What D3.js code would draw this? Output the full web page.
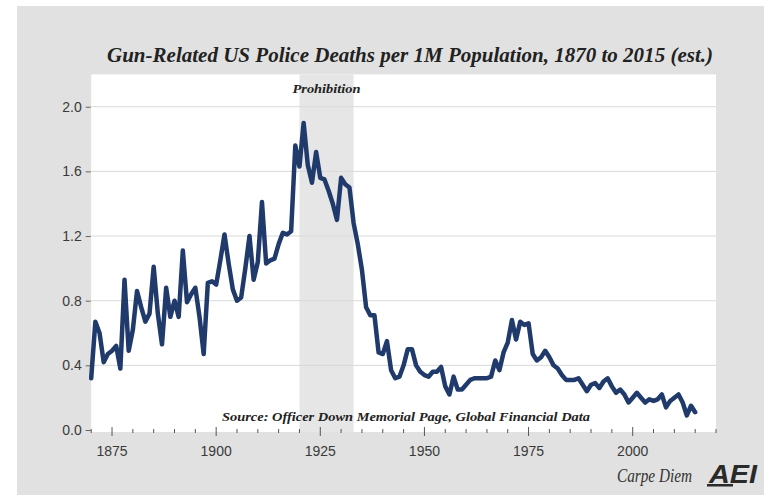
<!DOCTYPE html>
<html>
<head>
<meta charset="utf-8">
<script src="https://cdn.jsdelivr.net/npm/d3@7"></script>
<style>
  html, body { margin: 0; padding: 0; background: #ffffff; }
  svg { display: block; }
</style>
</head>
<body>
<svg id="chart" width="764" height="495"></svg>
<script>
// ---------- data ----------
const title = "Gun-Related US Police Deaths per 1M Population, 1870 to 2015 (est.)";
const sourceText = "Source: Officer Down Memorial Page, Global Financial Data";
const shadeLabel = "Prohibition";
const shadeYears = [1920, 1933];
const startYear = 1870;
const deathsPer1M = [
  0.32,0.67,0.60,0.42,0.47,0.49,0.52,0.38,0.93,0.49,   // 1870s
  0.62,0.86,0.76,0.67,0.72,1.01,0.72,0.53,0.88,0.70,   // 1880s
  0.80,0.70,1.11,0.79,0.84,0.88,0.70,0.47,0.91,0.92,   // 1890s
  0.90,1.05,1.21,1.03,0.87,0.80,0.82,1.00,1.20,0.93,   // 1900s
  1.04,1.41,1.03,1.05,1.06,1.15,1.22,1.21,1.23,1.76,   // 1910s
  1.63,1.90,1.64,1.53,1.72,1.56,1.55,1.48,1.40,1.30,   // 1920s
  1.56,1.52,1.50,1.28,1.15,0.99,0.76,0.71,0.71,0.48,   // 1930s
  0.47,0.55,0.37,0.32,0.33,0.40,0.50,0.50,0.40,0.36,   // 1940s
  0.34,0.33,0.36,0.36,0.39,0.27,0.22,0.33,0.25,0.25,   // 1950s
  0.28,0.31,0.32,0.32,0.32,0.32,0.33,0.43,0.37,0.48,   // 1960s
  0.54,0.68,0.56,0.67,0.65,0.66,0.47,0.43,0.45,0.49,   // 1970s
  0.45,0.40,0.38,0.34,0.31,0.31,0.31,0.32,0.28,0.24,   // 1980s
  0.28,0.29,0.26,0.30,0.32,0.27,0.23,0.25,0.22,0.17,   // 1990s
  0.20,0.23,0.20,0.17,0.19,0.18,0.19,0.22,0.14,0.18,   // 2000s
  0.20,0.22,0.17,0.09,0.15,0.11                        // 2010-2015
];
const yTickValues = [0.0, 0.4, 0.8, 1.2, 1.6, 2.0];
const xLabelYears = [1875, 1900, 1925, 1950, 1975, 2000];
const xDomain = [1870, 2020];
const yDomain = [0, 2.2];

// ---------- layout ----------
const svg = d3.select("#chart");
const plot = { left: 91.2, right: 716, top: 74.4, bottom: 432, zero: 430 };

const x = d3.scaleLinear().domain(xDomain).range([plot.left, plot.right]);
const y = d3.scaleLinear().domain(yDomain).range([plot.zero, plot.top]);

const data = deathsPer1M.map((v, i) => ({ year: startYear + i, value: v }));

// outer gray panel
svg.append("rect").attr("x", 17).attr("y", 6).attr("width", 764 - 17).attr("height", 495 - 6)
  .attr("fill", "#e1e1e1");

// plot background
svg.append("rect").attr("x", plot.left).attr("y", plot.top)
  .attr("width", plot.right - plot.left).attr("height", plot.bottom - plot.top)
  .attr("fill", "#ffffff");

// prohibition shading
svg.append("rect").attr("x", x(shadeYears[0])).attr("y", plot.top)
  .attr("width", x(shadeYears[1]) - x(shadeYears[0])).attr("height", plot.bottom - plot.top)
  .attr("fill", "#e6e6e6");

// gridlines
svg.append("g").selectAll("line").data(yTickValues.filter(d => d > 0)).join("line")
  .attr("x1", plot.left).attr("x2", plot.right)
  .attr("y1", d => y(d)).attr("y2", d => y(d))
  .attr("stroke", "#d9d9d9").attr("stroke-width", 1);

// y axis
const yAxis = d3.axisLeft(y).tickValues(yTickValues).tickFormat(d3.format(".1f"))
  .tickSize(5).tickPadding(4);
const gy = svg.append("g").attr("transform", `translate(${plot.left - 0.5},0)`).call(yAxis);
gy.select(".domain").remove();
gy.selectAll(".tick line").attr("stroke", "#666");
gy.selectAll(".tick text").attr("font-family", "'Liberation Sans', Arial, sans-serif")
  .attr("font-size", 14).attr("fill", "#3a3a3a");

// x axis: minor ticks every 5 years, labels every 25
const minorYears = d3.range(xDomain[0], xDomain[1] + 1, 5);
const gx = svg.append("g");
gx.selectAll("line").data(minorYears).join("line")
  .attr("x1", d => x(d)).attr("x2", d => x(d))
  .attr("y1", d => xLabelYears.includes(d) ? 427 : 429)
  .attr("y2", d => xLabelYears.includes(d) ? 436 : 433)
  .attr("stroke", "#555").attr("stroke-width", 1);
gx.selectAll("text").data(xLabelYears).join("text")
  .attr("x", d => x(d)).attr("y", 456)
  .attr("text-anchor", "middle")
  .attr("font-family", "'Liberation Sans', Arial, sans-serif")
  .attr("font-size", 14).attr("fill", "#3a3a3a")
  .text(d => d);

// line
const line = d3.line().x(d => x(d.year)).y(d => y(d.value));
svg.append("path").datum(data)
  .attr("d", line)
  .attr("fill", "none")
  .attr("stroke", "#1f3a6b")
  .attr("stroke-width", 4.5)
  .attr("stroke-linejoin", "round")
  .attr("stroke-linecap", "round");

// texts
const serif = "'Liberation Serif', 'DejaVu Serif', Georgia, serif";
svg.append("text").attr("x", 107).attr("y", 62)
  .attr("font-family", serif).attr("font-style", "italic").attr("font-weight", "bold")
  .attr("font-size", 20).attr("fill", "#222")
  .attr("textLength", 606).attr("lengthAdjust", "spacingAndGlyphs")
  .text(title);

svg.append("text").attr("x", (x(shadeYears[0]) + x(shadeYears[1])) / 2).attr("y", 93)
  .attr("text-anchor", "middle")
  .attr("font-family", serif).attr("font-style", "italic").attr("font-weight", "bold")
  .attr("font-size", 13).attr("fill", "#222")
  .attr("textLength", 68).attr("lengthAdjust", "spacingAndGlyphs")
  .text(shadeLabel);

svg.append("text").attr("x", 222).attr("y", 421)
  .attr("font-family", serif).attr("font-style", "italic").attr("font-weight", "bold")
  .attr("font-size", 13).attr("fill", "#222")
  .attr("textLength", 368).attr("lengthAdjust", "spacingAndGlyphs")
  .text(sourceText);

// branding
svg.append("text").attr("x", 617).attr("y", 482)
  .attr("font-family", serif).attr("font-style", "italic")
  .attr("font-size", 18).attr("fill", "#333")
  .attr("textLength", 75).attr("lengthAdjust", "spacingAndGlyphs")
  .text("Carpe Diem");
svg.append("text").attr("x", 709).attr("y", 483)
  .attr("font-family", "'Liberation Sans', Arial, sans-serif").attr("font-style", "italic")
  .attr("font-weight", "bold").attr("font-size", 25).attr("fill", "#2a2a2a")
  .attr("textLength", 48).attr("lengthAdjust", "spacingAndGlyphs")
  .text("AEI");
svg.append("rect").attr("x", 707).attr("y", 484).attr("width", 26).attr("height", 2.5).attr("fill", "#2a2a2a");
</script>
</body>
</html>
